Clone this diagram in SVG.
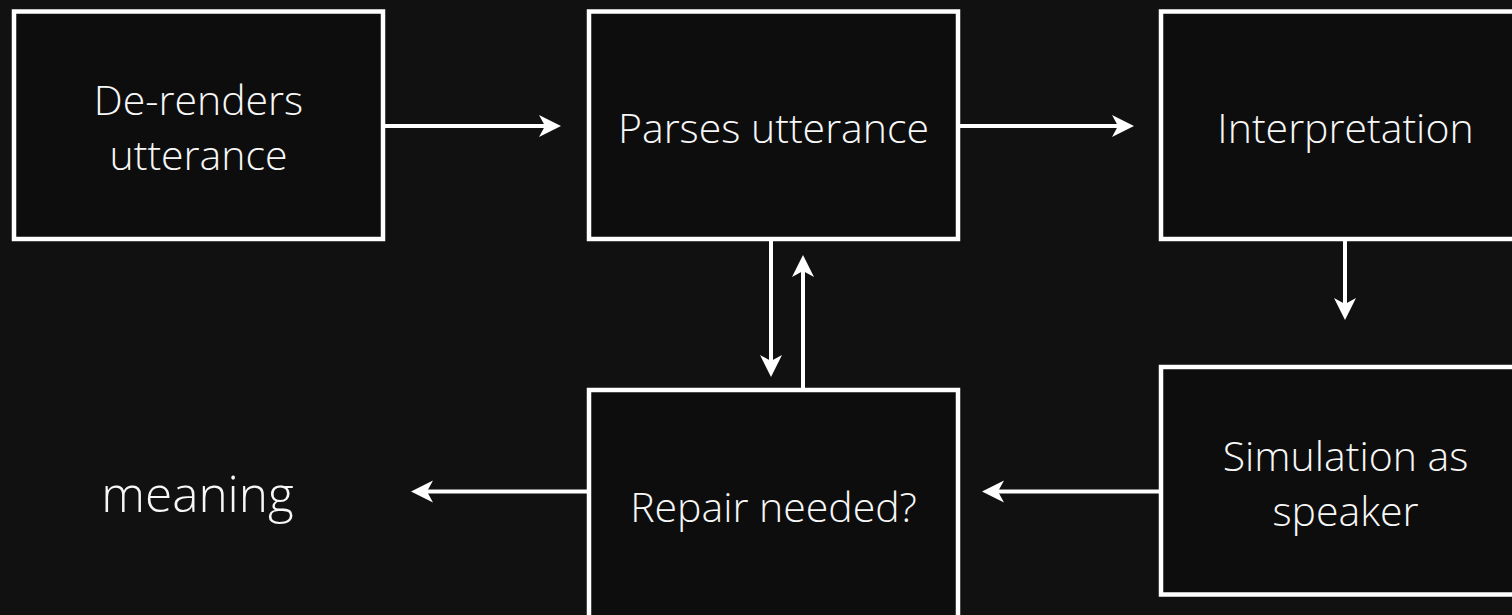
<svg xmlns="http://www.w3.org/2000/svg" width="1512" height="615" viewBox="0 0 1512 615">
  <style>
    .box { fill: #0d0d0d; stroke: #ffffff; stroke-width: 4.5; }
    .lbl { font-family: "Open Sans", "Noto Sans", sans-serif; font-size: 41px; font-weight: 300; fill: #f7f7f7; text-anchor: middle; }
    .big { font-size: 49.5px; }
    .conn { stroke: #ffffff; stroke-width: 4; fill: none; marker-end: url(#head); }
  </style>
  <defs>
    <marker id="head" markerUnits="userSpaceOnUse" viewBox="-23 -12 24 24" markerWidth="24" markerHeight="24" refX="-16" refY="0" orient="auto">
      <path d="M0,0 L-22,-11 L-16,0 L-22,11 Z" fill="#ffffff"/>
    </marker>
  </defs>
  <rect width="1512" height="615" fill="#111111"/>

  <g id="derenders">
    <rect class="box" x="14" y="11.5" width="369" height="227.5"/>
    <text class="lbl" x="198.5" y="115">De-renders</text>
    <text class="lbl" x="198.5" y="170">utterance</text>
  </g>
  <g id="parses">
    <rect class="box" x="589" y="11.5" width="369" height="227.5"/>
    <text class="lbl" x="773.5" y="143">Parses utterance</text>
  </g>
  <g id="interpretation">
    <rect class="box" x="1161" y="11.5" width="369" height="227.5"/>
    <text class="lbl" x="1345.5" y="143">Interpretation</text>
  </g>
  <g id="repair">
    <rect class="box" x="589" y="390" width="369" height="227.5"/>
    <text class="lbl" x="773.5" y="521.5">Repair needed?</text>
  </g>
  <g id="simulation">
    <rect class="box" x="1161" y="367" width="369" height="227.5"/>
    <text class="lbl" x="1345.5" y="471">Simulation as</text>
    <text class="lbl" x="1345.5" y="525.5">speaker</text>
  </g>
  <g id="meaning">
    <text class="lbl big" x="197.5" y="511.5">meaning</text>
  </g>

  <g id="connectors">
    <line class="conn" x1="385" y1="126" x2="545" y2="126"/>
    <line class="conn" x1="960" y1="126" x2="1118" y2="126"/>
    <line class="conn" x1="1345" y1="241" x2="1345" y2="304"/>
    <line class="conn" x1="771" y1="241" x2="771" y2="361"/>
    <line class="conn" x1="803" y1="388" x2="803" y2="271"/>
    <line class="conn" x1="1159" y1="491.5" x2="998" y2="491.5"/>
    <line class="conn" x1="587" y1="491.5" x2="427" y2="491.5"/>
  </g>
</svg>
